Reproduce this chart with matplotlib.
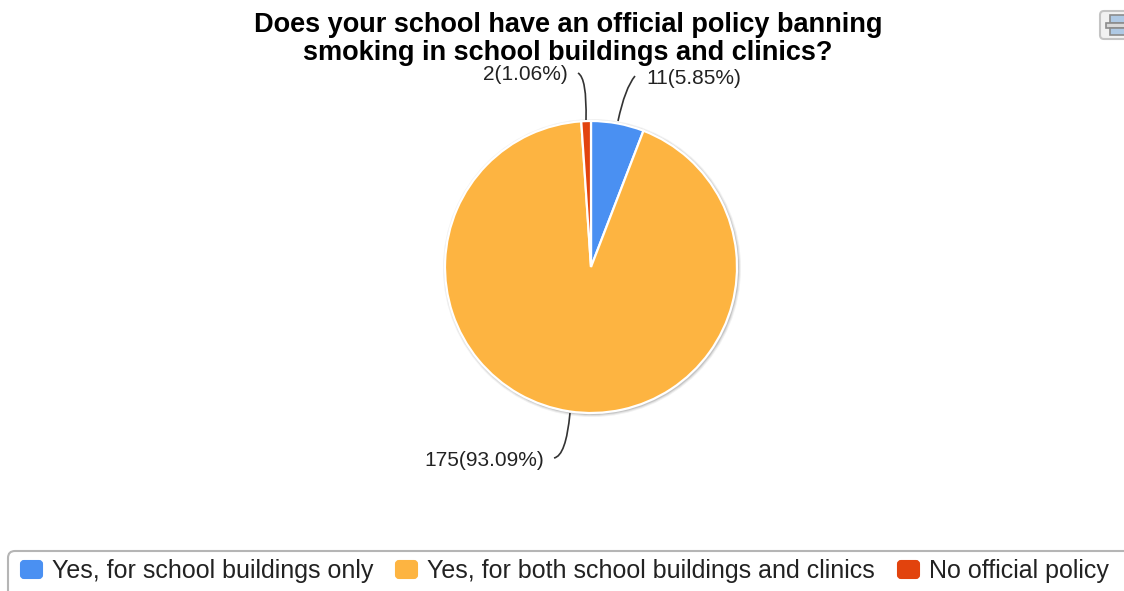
import matplotlib
matplotlib.use("Agg")
import matplotlib.pyplot as plt
from matplotlib.patches import Circle, FancyBboxPatch, PathPatch, Rectangle
from matplotlib.path import Path

plt.rcParams['font.family'] = ['Liberation Sans', 'DejaVu Sans']

title = "Does your school have an official policy banning\nsmoking in school buildings and clinics?"
categories = ["Yes, for school buildings only", "Yes, for both school buildings and clinics", "No official policy"]
counts = [11, 175, 2]
percents = ["5.85", "93.09", "1.06"]
colors = ["#4A90F2", "#FDB441", "#E2430D"]

W, H = 1124, 591


# image y runs down, the axes y runs up
def fy(y):
    return H - y


fig = plt.figure(figsize=(W / 100, H / 100), dpi=100)
ax = fig.add_axes([0, 0, 1, 1])

# soft shadow behind the pie
for r, a in [(149, 0.10), (148, 0.15), (147, 0.25)]:
    ax.add_patch(Circle((592, fy(268)), r, color="#777777", alpha=a, lw=0, zorder=1))

ax.pie(counts, colors=colors, startangle=90, counterclock=False, center=(591, fy(267)), radius=146,
       wedgeprops={"edgecolor": "white", "linewidth": 1.6, "zorder": 2}, frame=True)
ax.set_xlim(0, W)
ax.set_ylim(0, H)
ax.set_aspect("auto")
ax.axis("off")

ax.text(568, fy(39), title, ha="center", va="center", fontsize=19.5, fontweight="bold",
        color="black", linespacing=1.12)

# slice labels and leader lines
label_pos = [(646, 79, "left"), (544, 460, "right"), (568, 75, "right")]
leaders = [
    [(618, 121), (625, 88), (635, 76)],
    [(570, 413), (566, 456), (554, 458)],
    [(586, 120), (587, 78), (578, 73)],
]
for i in range(len(counts)):
    x, y, ha = label_pos[i]
    ax.text(x, fy(y), f"{counts[i]}({percents[i]}%)", ha=ha, va="center", fontsize=15.0, color="#222222")
    pts = [(p[0], fy(p[1])) for p in leaders[i]]
    path = Path(pts, [Path.MOVETO, Path.CURVE3, Path.CURVE3])
    ax.add_patch(PathPatch(path, fill=False, edgecolor="#333333", lw=1.2, zorder=3))

# legend box runs off the right and bottom of the picture
ax.add_patch(FancyBboxPatch((8, fy(620)), 1130, 69, boxstyle="round,pad=0,rounding_size=7",
                            facecolor="white", edgecolor="#B5B5B5", lw=1.5, zorder=1))
legend_x = [19, 394, 896]
for i in range(len(categories)):
    ax.add_patch(FancyBboxPatch((legend_x[i] + 2, fy(578)), 21, 17, boxstyle="round,pad=0,rounding_size=3",
                                facecolor=colors[i], edgecolor=colors[i], lw=1.5, zorder=2))
    ax.text(legend_x[i] + 33, fy(571), categories[i], ha="left", va="center", fontsize=18.0, color="#222222")

# print button in the corner
ax.add_patch(FancyBboxPatch((1100, fy(39)), 40, 28, boxstyle="round,pad=0,rounding_size=4",
                            facecolor="#F1F1F1", edgecolor="#C4C4C4", lw=1.5))
ax.add_patch(Rectangle((1110, fy(23)), 20, 8, facecolor="#AFC9E4", edgecolor="#8C8C8C", lw=1.2))
ax.add_patch(Rectangle((1106, fy(28)), 24, 5, facecolor="#D9D9D9", edgecolor="#8C8C8C", lw=1.2))
ax.add_patch(Rectangle((1110, fy(35)), 20, 7, facecolor="#AFC9E4", edgecolor="#8C8C8C", lw=1.2))

fig.savefig("out.png", dpi=100, facecolor="white")
